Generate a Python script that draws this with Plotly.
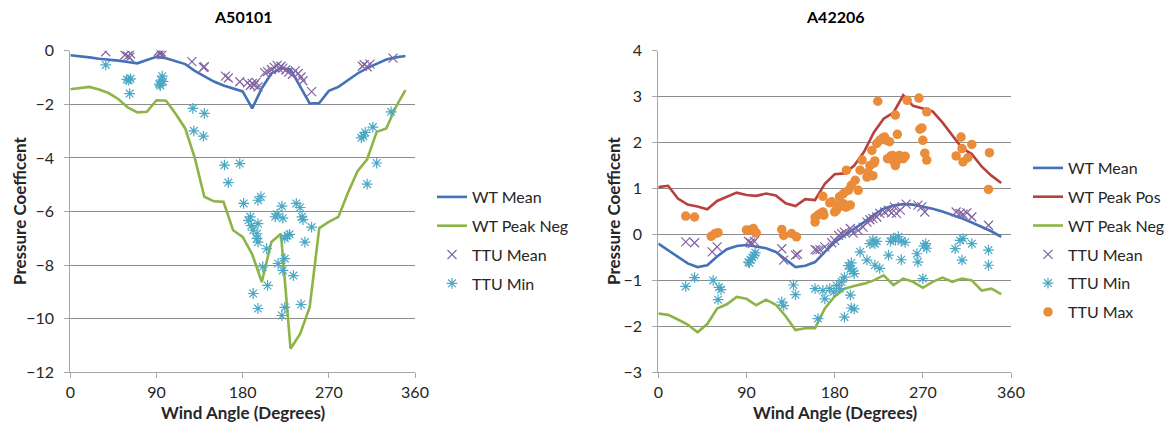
import plotly.graph_objects as go

# ---------------- data ----------------
angles = [0, 10, 20, 30, 40, 50, 60, 70, 80, 90, 100, 110, 120, 130, 140, 150, 160, 170,
          180, 190, 200, 210, 220, 230, 240, 250, 260, 270, 280, 290, 300, 310, 320, 330, 340, 350]

# Left chart A50101
a5_wt_mean = [-0.17, -0.2, -0.25, -0.3, -0.33, -0.37, -0.42, -0.47, -0.35, -0.23, -0.28, -0.38,
              -0.5, -0.75, -0.95, -1.15, -1.3, -1.42, -1.52, -2.15, -1.4, -0.85, -0.65, -0.7,
              -1.35, -1.97, -1.95, -1.5, -1.35, -1.1, -0.85, -0.65, -0.48, -0.33, -0.25, -0.2]
a5_wt_peakneg = [-1.44, -1.4, -1.35, -1.45, -1.58, -1.8, -2.12, -2.3, -2.28, -1.85, -1.87, -2.35,
                 -2.9, -4.0, -5.45, -5.62, -5.64, -6.7, -6.95, -7.6, -8.63, -7.14, -6.83, -11.12,
                 -10.57, -9.57, -6.62, -6.39, -6.2, -5.3, -4.5, -4.05, -3.03, -2.9, -2.1, -1.47]
a5_ttu_mean_x = [37, 57, 60, 62, 63, 93, 94, 95, 96, 92, 127, 140, 139, 162, 165, 177, 185, 188, 190,
                 192, 194, 196, 203, 206, 210, 213, 216, 218, 220, 222, 225, 228, 232, 235, 238, 241,
                 243, 252, 305, 307, 310, 313, 337]
a5_ttu_mean_y = [-0.04, -0.16, -0.2, -0.25, -0.12, -0.08, -0.12, -0.05, -0.15, -0.02, -0.41, -0.6,
                 -0.62, -0.95, -1.02, -1.16, -1.2, -1.3, -1.22, -1.28, -1.18, -1.35, -0.82, -0.78,
                 -0.7, -0.62, -0.55, -0.68, -0.58, -0.65, -0.72, -0.8, -0.88, -0.75, -0.85, -0.98,
                 -1.12, -1.53, -0.58, -0.52, -0.6, -0.5, -0.28]
a5_ttu_min_x = [37, 59, 61, 63, 62, 93, 95, 96, 97, 94, 128, 140, 129, 139, 161, 177, 165, 181, 196,
                199, 221, 236, 240, 188, 186, 189, 191, 195, 196, 195, 196, 205, 214, 216, 222, 224,
                227, 229, 242, 243, 252, 245, 201, 217, 224, 222, 233, 206, 191, 196, 224, 221, 241,
                306, 308, 304, 316, 335, 320, 310]
a5_ttu_min_y = [-0.53, -1.07, -1.1, -1.05, -1.6, -1.25, -1.1, -0.95, -1.15, -1.3, -2.15, -2.34,
                -2.99, -3.19, -4.27, -4.21, -4.92, -5.7, -5.58, -5.45, -5.8, -5.7, -5.85, -6.2,
                -6.33, -6.53, -6.7, -6.83, -6.45, -7.0, -7.14, -7.39, -6.2, -6.1, -6.25, -7.0,
                -6.9, -6.85, -6.2, -6.3, -6.58, -7.14, -8.07, -7.94, -7.76, -8.2, -8.39, -8.76,
                -9.06, -9.62, -9.58, -9.88, -9.47, -3.19, -3.05, -3.25, -2.85, -2.28, -4.19, -4.98]

# Right chart A42206
a4_wt_mean = [-0.2, -0.35, -0.5, -0.63, -0.71, -0.67, -0.48, -0.32, -0.25, -0.23, -0.26, -0.3,
              -0.38, -0.55, -0.71, -0.68, -0.6, -0.38, -0.17, -0.02, 0.12, 0.27, 0.43, 0.56,
              0.63, 0.66, 0.65, 0.61, 0.56, 0.5, 0.43, 0.35, 0.26, 0.17, 0.07, -0.05]
a4_wt_peakpos = [1.03, 1.06, 0.78, 0.65, 0.61, 0.55, 0.73, 0.82, 0.91, 0.86, 0.84, 0.89, 0.85,
                 0.68, 0.62, 0.77, 0.75, 1.1, 1.31, 1.33, 1.5, 1.8, 2.22, 2.52, 2.65, 3.03, 2.8,
                 2.74, 2.68, 2.44, 2.17, 1.88, 1.75, 1.48, 1.28, 1.12]
a4_wt_peakneg = [-1.72, -1.75, -1.85, -1.96, -2.13, -1.95, -1.61, -1.52, -1.36, -1.4, -1.54, -1.42,
                 -1.53, -1.78, -2.08, -2.04, -2.04, -1.61, -1.35, -1.18, -1.12, -1.07, -1.0, -0.89,
                 -1.1, -0.96, -1.03, -1.16, -1.03, -0.94, -1.03, -0.96, -1.0, -1.22, -1.18, -1.3]
a4_ttu_mean_x = [28, 37, 55, 60, 92, 94, 96, 98, 126, 128, 140, 142, 160, 162, 165, 170, 177, 180,
                 184, 187, 190, 196, 199, 204, 209, 213, 216, 219, 223, 226, 231, 235, 238, 241, 243,
                 247, 253, 265, 269, 272, 304, 308, 311, 315, 320, 337]
a4_ttu_mean_y = [-0.16, -0.18, -0.38, -0.27, -0.15, -0.18, -0.2, -0.15, -0.31, -0.56, -0.45, -0.43,
                 -0.33, -0.34, -0.33, -0.27, -0.18, -0.13, -0.02, 0.02, 0.05, 0.13, 0.03, 0.09, 0.16,
                 0.27, 0.32, 0.35, 0.38, 0.46, 0.49, 0.53, 0.47, 0.6, 0.46, 0.53, 0.66, 0.64, 0.6,
                 0.49, 0.49, 0.46, 0.44, 0.47, 0.38, 0.2]
a4_ttu_min_x = [28, 37, 56, 62, 64, 61, 92, 94, 96, 98, 99, 93, 126, 128, 138, 140, 160, 163, 168,
                170, 175, 179, 182, 185, 187, 190, 196, 197, 200, 190, 194, 196, 197, 199, 200, 206,
                213, 216, 219, 221, 223, 221, 226, 235, 237, 240, 242, 245, 248, 252, 248, 264, 265,
                271, 273, 274, 270, 303, 308, 311, 310, 320, 337, 337]
a4_ttu_min_y = [-1.13, -0.94, -1.0, -1.15, -1.2, -1.42, -0.6, -0.55, -0.5, -0.45, -0.4, -0.62,
                -1.47, -1.55, -1.1, -1.31, -1.18, -1.83, -1.22, -1.4, -1.18, -1.25, -1.11, -1.18,
                -1.03, -0.93, -1.32, -1.6, -1.62, -1.8, -0.68, -0.75, -0.62, -0.8, -0.85, -0.38,
                -0.56, -0.2, -0.12, -0.2, -0.15, -0.67, -0.74, -0.45, -0.15, -0.08, -0.12, -0.05,
                -0.15, -0.17, -0.55, -0.42, -0.6, -0.25, -0.2, -0.3, -0.96, -0.31, -0.13, -0.09,
                -0.56, -0.2, -0.34, -0.67]
a4_ttu_max_x = [28, 37, 54, 58, 61, 90, 94, 97, 99, 100, 126, 128, 136, 141, 160, 163, 160, 168,
                169, 168, 175, 177, 180, 182, 184, 185, 189, 189, 191, 192, 194, 196, 197, 201, 204,
                206, 208, 213, 214, 216, 218, 219, 220, 221, 223, 226, 229, 231, 233, 236, 234, 237,
                239, 240, 242, 244, 246, 248, 250, 252, 244, 242, 224, 254, 266, 274, 267, 269, 270,
                272, 274, 304, 309, 310, 311, 316, 320, 338, 337, 165, 182, 192]
a4_ttu_max_y = [0.4, 0.38, -0.04, 0.02, 0.04, 0.1, 0.1, 0.13, 0.05, 0.03, 0.11, -0.02, 0.02, -0.05,
                0.27, 0.42, 0.37, 0.49, 0.42, 0.83, 0.69, 0.71, 0.49, 0.53, 0.6, 0.82, 0.89, 0.67,
                0.6, 1.4, 0.96, 0.64, 1.07, 1.18, 0.96, 1.4, 1.62, 1.25, 1.35, 1.5, 1.83, 1.28, 1.55,
                1.6, 1.98, 2.05, 2.1, 2.12, 2.05, 2.02, 1.65, 1.7, 1.72, 1.6, 1.5, 1.62, 1.72, 1.68,
                1.65, 1.7, 2.18, 2.6, 2.9, 2.92, 2.97, 2.67, 2.29, 2.32, 2.05, 1.77, 1.62, 1.71, 2.12,
                1.87, 1.58, 1.67, 1.96, 1.78, 0.98, 0.45, 0.63, 0.6]

x_ticks = [0, 90, 180, 270, 360]
left_y_ticks = [0, -2, -4, -6, -8, -10, -12]
right_y_ticks = [4, 3, 2, 1, 0, -1, -2, -3]

# ---------------- styles ----------------
C_BLUE = "#4472B8"
C_GREEN = "#8DB446"
C_RED = "#B8403F"
C_PURPLE = "#8064A2"
C_CYAN = "#4BA8C4"
C_ORANGE = "#EB8C3A"
FONT = "Lato"
TXT = "#262626"
GRID = "#8C8C8C"
AXIS = "#A6A6A6"

fig = go.Figure()


def line(x, y, name, color, xa, ya, leg):
    fig.add_trace(go.Scatter(x=x, y=y, mode="lines", name=name, line=dict(color=color, width=2.6),
                             xaxis=xa, yaxis=ya, legend=leg, legendgroup=leg + name))


def pts(x, y, name, color, symbol, size, xa, ya, leg, lw=1.2):
    if symbol == "circle":
        m = dict(color=color, size=size, symbol="circle", line=dict(width=0))
    else:
        m = dict(color=color, size=size, symbol=symbol, line=dict(color=color, width=lw))
    fig.add_trace(go.Scatter(x=x, y=y, mode="markers", name=name, marker=m,
                             xaxis=xa, yaxis=ya, legend=leg, legendgroup=leg + name))


# left
line(angles, a5_wt_mean, "WT Mean", C_BLUE, "x", "y", "legend")
line(angles, a5_wt_peakneg, "WT Peak Neg", C_GREEN, "x", "y", "legend")
pts(a5_ttu_mean_x, a5_ttu_mean_y, "TTU Mean", C_PURPLE, "x-thin-open", 9, "x", "y", "legend")
pts(a5_ttu_min_x, a5_ttu_min_y, "TTU Min", C_CYAN, "asterisk-open", 9, "x", "y", "legend")
# right
line(angles, a4_wt_mean, "WT Mean", C_BLUE, "x2", "y2", "legend2")
line(angles, a4_wt_peakpos, "WT Peak Pos", C_RED, "x2", "y2", "legend2")
line(angles, a4_wt_peakneg, "WT Peak Neg", C_GREEN, "x2", "y2", "legend2")
pts(a4_ttu_mean_x, a4_ttu_mean_y, "TTU Mean", C_PURPLE, "x-thin-open", 9, "x2", "y2", "legend2")
pts(a4_ttu_min_x, a4_ttu_min_y, "TTU Min", C_CYAN, "asterisk-open", 9, "x2", "y2", "legend2")
pts(a4_ttu_max_x, a4_ttu_max_y, "TTU Max", C_ORANGE, "circle", 9.5, "x2", "y2", "legend2")

W, H = 1172, 433
TOP, BOT = 50.7, 372.3
xdom1 = [70.3 / W, 415.0 / W]
xdom2 = [658.3 / W, 1011.0 / W]
ydom = [1 - BOT / H, 1 - TOP / H]

xaxis_common = dict(range=[0, 360], tickvals=x_ticks, ticks="outside", ticklen=5, tickcolor=AXIS,
                    showline=True, linecolor=AXIS, linewidth=1, showgrid=False, zeroline=False,
                    automargin=False,
                    tickfont=dict(family=FONT, size=16, color=TXT))
yaxis_common = dict(ticks="outside", ticklen=5, tickcolor=AXIS, showline=True, linecolor=AXIS,
                    linewidth=1, showgrid=True, gridcolor=GRID, gridwidth=1, zeroline=False,
                    automargin=False, ticklabelstandoff=7,
                    tickfont=dict(family=FONT, size=16, color=TXT))

legend_common = dict(font=dict(family=FONT, size=16, color=TXT), bgcolor="rgba(0,0,0,0)",
                     tracegroupgap=5, itemwidth=30, xanchor="left", yanchor="top")

TITLE_FONT = dict(family=FONT, size=16, color="#000000")
AX_FONT = dict(family=FONT, size=17, color=TXT)


def ann(text, xpx, ypx, font, angle=0):
    return dict(text=text, x=xpx / W, y=1 - ypx / H, xref="paper", yref="paper", showarrow=False,
                font=font, textangle=angle, xanchor="center", yanchor="middle")


fig.update_layout(
    width=W, height=H, margin=dict(l=0, r=0, t=0, b=0, pad=0, autoexpand=False),
    paper_bgcolor="white", plot_bgcolor="white", showlegend=True,
    xaxis=dict(domain=xdom1, anchor="y", **xaxis_common),
    yaxis=dict(domain=ydom, anchor="x", range=[-12, 0], tickvals=left_y_ticks, **yaxis_common),
    xaxis2=dict(domain=xdom2, anchor="y2", **xaxis_common),
    yaxis2=dict(domain=ydom, anchor="x2", range=[-3, 4], tickvals=right_y_ticks, **yaxis_common),
    legend=dict(x=432 / W, y=1 - 180 / H, **legend_common),
    legend2=dict(x=1028 / W, y=1 - 151 / H, **legend_common),
    annotations=[
        ann("<b>A50101</b>", 243, 16, TITLE_FONT),
        ann("<b>A42206</b>", 835, 16, TITLE_FONT),
        ann("<b>Wind Angle (Degrees)</b>", 243, 412, AX_FONT),
        ann("<b>Wind Angle (Degrees)</b>", 835, 412, AX_FONT),
        ann("<b>Pressure Coefficent</b>", 19, 211, AX_FONT, -90),
        ann("<b>Pressure Coefficent</b>", 613, 211, AX_FONT, -90),
    ],
)

fig.write_html("out.html", config={"displayModeBar": False},
               post_script="document.body.style.margin='0';document.body.style.padding='0';")
